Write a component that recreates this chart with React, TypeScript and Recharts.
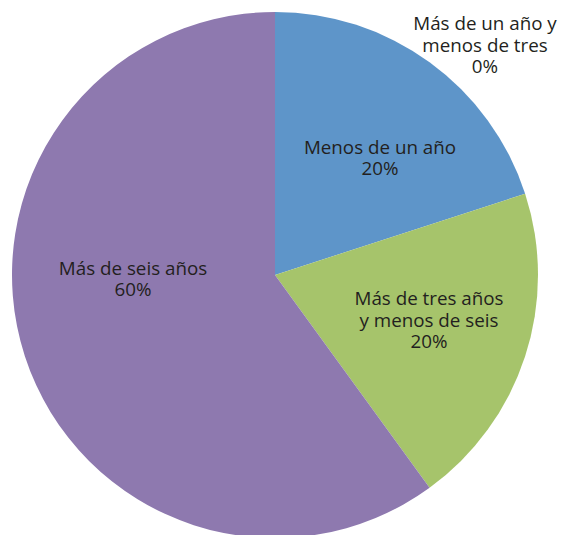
import { PieChart, Pie, Cell } from "recharts";

// Slice data, clockwise from 12 o'clock
const categories = [
  "Menos de un año",
  "Más de un año y\nmenos de tres",
  "Más de tres años\ny menos de seis",
  "Más de seis años",
];
const shares = [20, 0, 20, 60];
const sliceColors = ["#5E95C9", "#5E95C9", "#A6C46B", "#8E79AF"];

// Hand-placed label centres (offset from pie centre), as in the original
const labelOffsets = [
  [105, -117],
  [210, -230],
  [154, 45],
  [-142, 4],
];

const W = 567;
const H = 535;
const CX = 275;
const CY = 275;
const R = 263;
const LINE = 21.5;

const data = categories.map((name, i) => ({ name, value: shares[i] }));

function renderLabel(props: any) {
  const { index, name, value } = props;
  const lines = [...String(name).split("\n"), `${value}%`];
  const [dx, dy] = labelOffsets[index];
  const x = CX + dx;
  const top = CY + dy - ((lines.length - 1) * LINE) / 2;
  return (
    <text
      x={x}
      y={top}
      textAnchor="middle"
      fill="#231F20"
      style={{ fontFamily: "'Open Sans', sans-serif", fontSize: 18.8 }}
    >
      {lines.map((l, k) => (
        <tspan key={k} x={x} y={top + k * LINE} dy={6.5}>
          {l}
        </tspan>
      ))}
    </text>
  );
}

export default function App() {
  return (
    <div style={{ position: "absolute", left: 0, top: 0, width: W, height: H, background: "#fff" }}>
      <PieChart width={W} height={H} margin={{ top: 0, right: 0, bottom: 0, left: 0 }}>
        <Pie
          data={data}
          dataKey="value"
          nameKey="name"
          cx={CX}
          cy={CY}
          outerRadius={R}
          startAngle={90}
          endAngle={-270}
          stroke="none"
          label={renderLabel}
          labelLine={false}
          isAnimationActive={false}
        >
          {data.map((d, i) => (
            <Cell key={d.name} fill={sliceColors[i]} />
          ))}
        </Pie>
      </PieChart>
    </div>
  );
}
